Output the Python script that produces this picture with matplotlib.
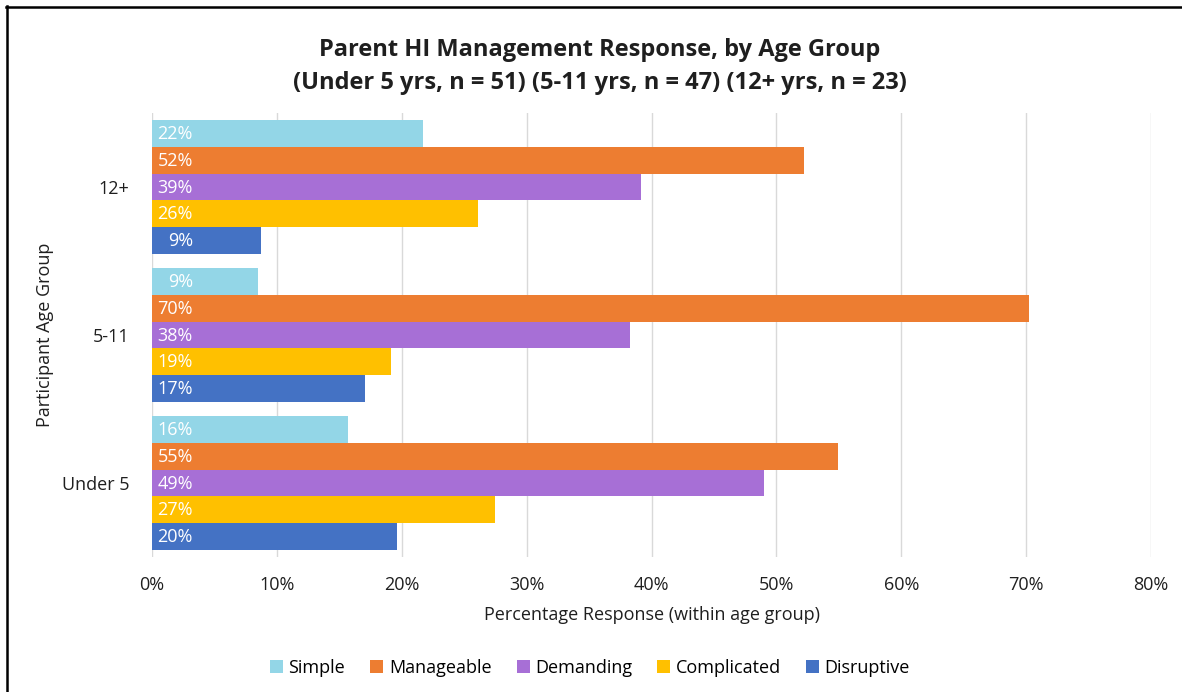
import matplotlib
matplotlib.use("Agg")
import matplotlib.pyplot as plt
from matplotlib.lines import Line2D
from matplotlib.patches import Patch
import numpy as np

plt.rcParams['font.family'] = ['Open Sans', 'DejaVu Sans']

# Age groups (bottom to top) and group sizes
age_groups = ["Under 5", "5-11", "12+"]
group_n = [51, 47, 23]

# Response categories, listed top to bottom within each group
responses = ["Simple", "Manageable", "Demanding", "Complicated", "Disruptive"]
colors = ["#93D6E7", "#ED7D31", "#A76FD6", "#FFC000", "#4472C4"]

# Number of parents giving each response, per age group
counts = {
    "Simple":      [8, 4, 5],
    "Manageable":  [28, 33, 12],
    "Demanding":   [25, 18, 9],
    "Complicated": [14, 9, 6],
    "Disruptive":  [10, 8, 2],
}

x_ticks = [0, 10, 20, 30, 40, 50, 60, 70, 80]

FS = 13
TXT = "#1F1F1F"

W, H = 1182, 692
fig = plt.figure(figsize=(W / 100, H / 100), dpi=100)
ax = fig.add_axes([152 / W, 1 - 557 / H, (1151 - 152) / W, (557 - 113) / H])

n_series = len(responses)
bar_h = 0.181
y_base = np.arange(len(age_groups))

for j, (name, col) in enumerate(zip(responses, colors)):
    pct = np.array(counts[name]) / np.array(group_n) * 100
    ypos = y_base + (n_series // 2 - j) * bar_h
    ax.barh(ypos, pct, height=bar_h, color=col, label=name, zorder=3)
    for yy, v in zip(ypos, pct):
        ax.annotate(f"{v:.0f}%", xy=(0, yy), xytext=(29.5, -0.5),
                    textcoords="offset points", ha="right", va="center",
                    color="white", fontsize=FS, zorder=4)

ax.set_xlim(0, 80)
ax.set_ylim(-0.5, len(age_groups) - 0.5)
ax.set_xticks(x_ticks)
ax.set_xticklabels([f"{t}%" for t in x_ticks], fontsize=FS, color=TXT)
ax.set_yticks(y_base)
ax.set_yticklabels(age_groups, fontsize=FS, color=TXT)
ax.tick_params(axis="both", length=0)
ax.tick_params(axis="x", pad=14)
ax.tick_params(axis="y", pad=16)
ax.grid(axis="x", color="#D9D9D9", linewidth=1, zorder=0)
for s in ax.spines.values():
    s.set_visible(False)

ax.set_xlabel("Percentage Response (within age group)", fontsize=FS,
              color=TXT, labelpad=8)
fig.text(45 / W, 1 - 335 / H, "Participant Age Group", rotation=90,
         ha="center", va="center", fontsize=FS, color=TXT)

fig.text(600 / W, 1 - 56 / H, "Parent HI Management Response, by Age Group",
         ha="center", va="baseline", fontsize=17, fontweight="bold", color=TXT)
fig.text(600 / W, 1 - 89 / H,
         "(Under 5 yrs, n = 51) (5-11 yrs, n = 47) (12+ yrs, n = 23)",
         ha="center", va="baseline", fontsize=17, fontweight="bold", color=TXT)

handles = [Patch(facecolor=c, edgecolor="none", label=r) for r, c in zip(responses, colors)]
fig.legend(handles=handles, loc="center", bbox_to_anchor=(590 / W, 1 - 668 / H),
           ncol=5, frameon=False, fontsize=FS, handlelength=0.72, handleheight=0.72,
           handletextpad=0.3, columnspacing=1.4)

# Outer frame (top and left edges)
fig.add_artist(Line2D([6 / W, 1], [1 - 7 / H, 1 - 7 / H], color="black",
                      linewidth=1.8, transform=fig.transFigure))
fig.add_artist(Line2D([6.5 / W, 6.5 / W], [0, 1 - 6 / H], color="black",
                      linewidth=1.8, transform=fig.transFigure))

fig.savefig("out.png", dpi=100)
